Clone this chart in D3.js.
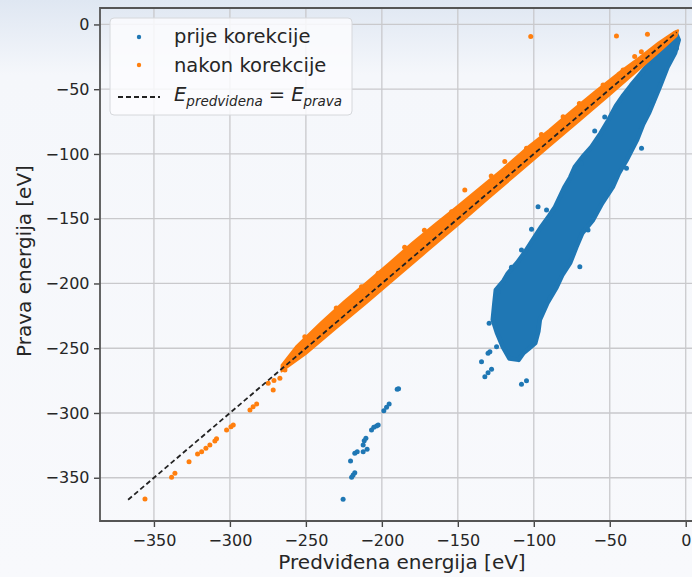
<!DOCTYPE html>
<html>
<head>
<meta charset="utf-8">
<script src="https://cdn.jsdelivr.net/npm/d3@7"></script>
<style>
  body { margin: 0; background: #f7f9fc; }
  svg { display: block; font-family: "DejaVu Sans", sans-serif; }
</style>
</head>
<body>
<div id="chart"></div>
<script>
// tick values
var xTicks = [-350, -300, -250, -200, -150, -100, -50, 0];
var yTicks = [-350, -300, -250, -200, -150, -100, -50, 0];

// dense blue cloud (prije korekcije), outline
var blueCloud = [
    [-6.6, -6.6], [-4.6, -12], [-7, -22], [-12, -33], [-17, -48], [-24, -68], [-28, -77],
    [-32, -89], [-39, -105], [-44, -115], [-48, -125.5], [-55, -138], [-61, -151], [-68, -161],
    [-72, -172], [-76, -184], [-81, -193], [-85, -203], [-91, -215], [-96, -228],
    [-97, -237], [-99, -246], [-103, -250], [-107, -254], [-110, -259], [-116, -258],
    [-120.4, -249], [-124.3, -238], [-127, -228], [-126, -216], [-125, -205], [-120, -198],
    [-117, -192], [-111, -184], [-106, -176], [-100, -165], [-95, -156], [-90, -148],
    [-86, -141], [-80, -126], [-76, -118], [-73, -110], [-67, -101], [-62, -94.5],
    [-56, -84], [-51, -74], [-46, -63], [-41, -54.5], [-36, -47], [-31, -40],
    [-24, -30], [-18, -21], [-10, -10]
];
// isolated blue points
var bluePoints = [
    [-225.5, -366.6], [-219.9, -349.7], [-218.9, -347.9], [-217.8, -346.1], [-220.6, -337.1],
    [-217.8, -331.1], [-216.2, -329.9], [-212.3, -329.9], [-209.7, -328], [-212.3, -324.7],
    [-211.6, -321.4], [-210.5, -319.5], [-206.8, -313.1], [-205.3, -311], [-203.5, -310],
    [-202.4, -309.3], [-198.7, -298.2], [-196.9, -295.6], [-195.2, -293.1], [-189.9, -281.7],
    [-189, -281.2],
    [-134.4, -260.4], [-132.2, -272], [-130.1, -268.9], [-127.8, -266.3], [-108.1, -277.8],
    [-104.8, -275.1], [-130.1, -253.9], [-128.9, -252.7], [-124.5, -248.8], [-129.4, -230.7],
    [-123.5, -206.3], [-114.7, -187.5], [-108.1, -174.1], [-101.5, -158.1], [-97.2, -140.7],
    [-91.6, -143.2], [-69.7, -187], [-64.3, -158.7], [-53.3, -71.4], [-59.9, -82.2],
    [-29.1, -95.6], [-21.5, -59.1], [-39, -111], [-68.6, -107.2], [-6.1, -18.4]
];

// orange band (nakon korekcije) along the diagonal, upper and lower edges
var orangeUpper = [
    [-266, -263], [-256, -248], [-240, -230], [-225, -214], [-210, -199], [-195, -184],
    [-180, -168.5], [-165, -154], [-150, -140], [-135, -125.5], [-120, -111], [-105, -95.5],
    [-90, -81.5], [-75, -66.5], [-60, -52], [-45, -38], [-30, -25], [-18, -14],
    [-8, -6], [-5, -4.5]
];
var orangeLower = [
    [-266, -268], [-250, -254.5], [-230, -234.5], [-210, -215], [-190, -195], [-170, -175],
    [-150, -155], [-130, -134.5], [-110, -114.5], [-90, -94.5], [-70, -74.5],
    [-50, -54.5], [-30, -34], [-15, -18.5], [-6, -9]
];
var orangePoints = [
    [-355.9, -366.4], [-338.4, -349.6], [-336.2, -346.6], [-326.9, -337.6], [-321.3, -331.7],
    [-318.6, -329.9], [-315.8, -327.3], [-313.2, -324.7], [-309.9, -321.6], [-308.8, -319.8],
    [-302.2, -313.1], [-299.3, -310.6], [-297.8, -309.3], [-286.8, -297.7], [-284.7, -295.1],
    [-282.4, -293.1], [-271.5, -282.2], [-274.8, -277], [-271, -275], [-267.1, -273.2],
    [-263.8, -266.8],
    [-102, -9.4], [-45.6, -8.9], [-25.2, -7.6], [-29.2, -21], [-33.6, -24.8], [-41.2, -35.1],
    [-54.4, -46.7], [-80.7, -71.2], [-104.8, -95.6], [-119.1, -105.9], [-145.4, -127.8],
    [-154.1, -144.6], [-202.4, -192.1], [-213.4, -202.5], [-238.6, -233.4], [-250.7, -241.1],
    [-230, -219], [-185, -172], [-172, -159], [-128, -117], [-95, -85], [-70, -61]
];

// identity line E_predvidena = E_prava
var identityLine = [[-367, -367], [-6, -6]];

var width = 692, height = 577;
var plot = {left: 100, top: 8, right: 707, bottom: 521};

var blue = "#1f77b4", orange = "#ff7f0e", ink = "#262626";

var svg = d3.select("#chart").append("svg")
    .attr("width", width)
    .attr("height", height);

// faint bluish wash at the top of the photo
var defs = svg.append("defs");
var grad = defs.append("linearGradient")
    .attr("id", "bg").attr("x1", 0).attr("y1", 0).attr("x2", 0).attr("y2", 1);
grad.append("stop").attr("offset", "0").attr("stop-color", "#dfe7f2");
grad.append("stop").attr("offset", "0.13").attr("stop-color", "#f5f7fb");
grad.append("stop").attr("offset", "1").attr("stop-color", "#f8f9fc");
svg.append("rect").attr("width", width).attr("height", height).attr("fill", "url(#bg)");

defs.append("clipPath").attr("id", "clip")
    .append("rect")
    .attr("x", plot.left).attr("y", plot.top)
    .attr("width", plot.right - plot.left).attr("height", plot.bottom - plot.top);

var x = d3.scaleLinear().domain([-385.5, 14]).range([plot.left, plot.right]);
var y = d3.scaleLinear().domain([-383.4, 12.7]).range([plot.bottom, plot.top]);

// grid
var grid = svg.append("g").attr("clip-path", "url(#clip)");
grid.selectAll(".gx").data(xTicks).enter().append("line")
    .attr("x1", function(d) { return x(d); }).attr("x2", function(d) { return x(d); })
    .attr("y1", plot.top).attr("y2", plot.bottom)
    .attr("stroke", "#c9c9cc").attr("stroke-width", 1.3);
grid.selectAll(".gy").data(yTicks).enter().append("line")
    .attr("y1", function(d) { return y(d); }).attr("y2", function(d) { return y(d); })
    .attr("x1", plot.left).attr("x2", plot.right)
    .attr("stroke", "#c9c9cc").attr("stroke-width", 1.3);

var marks = svg.append("g").attr("clip-path", "url(#clip)");
var line = d3.line()
    .x(function(d) { return x(d[0]); })
    .y(function(d) { return y(d[1]); });

// blue: cloud + scattered points
marks.append("path")
    .attr("d", line(blueCloud) + "Z")
    .attr("fill", blue).attr("stroke", blue)
    .attr("stroke-width", 4.5).attr("stroke-linejoin", "round");
marks.selectAll(".bp").data(bluePoints).enter().append("circle")
    .attr("cx", function(d) { return x(d[0]); })
    .attr("cy", function(d) { return y(d[1]); })
    .attr("r", 2.5).attr("fill", blue);

// orange: band + scattered points
marks.append("path")
    .attr("d", line(orangeUpper.concat(orangeLower.slice().reverse())) + "Z")
    .attr("fill", orange).attr("stroke", orange)
    .attr("stroke-width", 2).attr("stroke-linejoin", "round");
marks.selectAll(".op").data(orangePoints).enter().append("circle")
    .attr("cx", function(d) { return x(d[0]); })
    .attr("cy", function(d) { return y(d[1]); })
    .attr("r", 2.5).attr("fill", orange);

marks.append("path")
    .attr("d", line(identityLine))
    .attr("fill", "none").attr("stroke", "#222")
    .attr("stroke-width", 1.8).attr("stroke-dasharray", "5,3");

// axes
var fmt = function(d) { return String(d).replace("-", "\u2212"); };
var xAxis = svg.append("g")
    .attr("transform", "translate(0," + plot.bottom + ")")
    .call(d3.axisBottom(x).tickValues(xTicks).tickSize(6).tickPadding(9).tickFormat(fmt));
var yAxis = svg.append("g")
    .attr("transform", "translate(" + plot.left + ",0)")
    .call(d3.axisLeft(y).tickValues(yTicks).tickSize(6).tickPadding(4.5).tickFormat(fmt));
[xAxis, yAxis].forEach(function(a) {
    a.select(".domain").remove();
    a.selectAll(".tick line").attr("stroke", "#444").attr("stroke-width", 1.4);
    a.selectAll(".tick text").attr("fill", ink)
        .style("font-size", "16px").style("font-family", "DejaVu Sans");
});
xAxis.selectAll(".tick text").attr("dy", "0.6em");

// spines
svg.append("path")
    .attr("d", "M" + plot.right + "," + plot.top + "H" + plot.left + "V" + plot.bottom + "H" + plot.right)
    .attr("fill", "none").attr("stroke", "#555").attr("stroke-width", 1.8);

svg.append("text")
    .attr("x", 402).attr("y", 569)
    .attr("text-anchor", "middle").attr("fill", ink)
    .style("font-size", "20px")
    .text("Predviđena energija [eV]");
svg.append("text")
    .attr("transform", "translate(31,261) rotate(-90)")
    .attr("text-anchor", "middle").attr("fill", ink)
    .style("font-size", "20px")
    .text("Prava energija [eV]");

// legend
var lg = svg.append("g");
lg.append("rect")
    .attr("x", 110).attr("y", 18).attr("width", 242).attr("height", 97).attr("rx", 4)
    .attr("fill", "#fbfcfe").attr("fill-opacity", 0.85)
    .attr("stroke", "#d6d8dc").attr("stroke-width", 1);
lg.append("circle").attr("cx", 139).attr("cy", 37).attr("r", 2.2).attr("fill", blue);
lg.append("circle").attr("cx", 139).attr("cy", 65).attr("r", 2.2).attr("fill", orange);
lg.append("line").attr("x1", 118).attr("x2", 160).attr("y1", 97).attr("y2", 97)
    .attr("stroke", "#222").attr("stroke-width", 1.8).attr("stroke-dasharray", "5,3");
lg.append("text").attr("x", 174).attr("y", 43).attr("fill", ink)
    .style("font-size", "19.5px").text("prije korekcije");
lg.append("text").attr("x", 174).attr("y", 71.5).attr("fill", ink)
    .style("font-size", "19.5px").text("nakon korekcije");
var eq = lg.append("text").attr("x", 174).attr("y", 101).attr("fill", ink)
    .style("font-size", "19.5px");
eq.append("tspan").attr("font-style", "italic").text("E");
eq.append("tspan").attr("font-style", "italic").attr("font-size", "13.5px").attr("dy", 4.5).text("predvidena");
eq.append("tspan").attr("dy", -4.5).attr("dx", 6).text("=");
eq.append("tspan").attr("font-style", "italic").attr("dx", 6).text("E");
eq.append("tspan").attr("font-style", "italic").attr("font-size", "13.5px").attr("dy", 4.5).text("prava");
</script>
</body>
</html>
